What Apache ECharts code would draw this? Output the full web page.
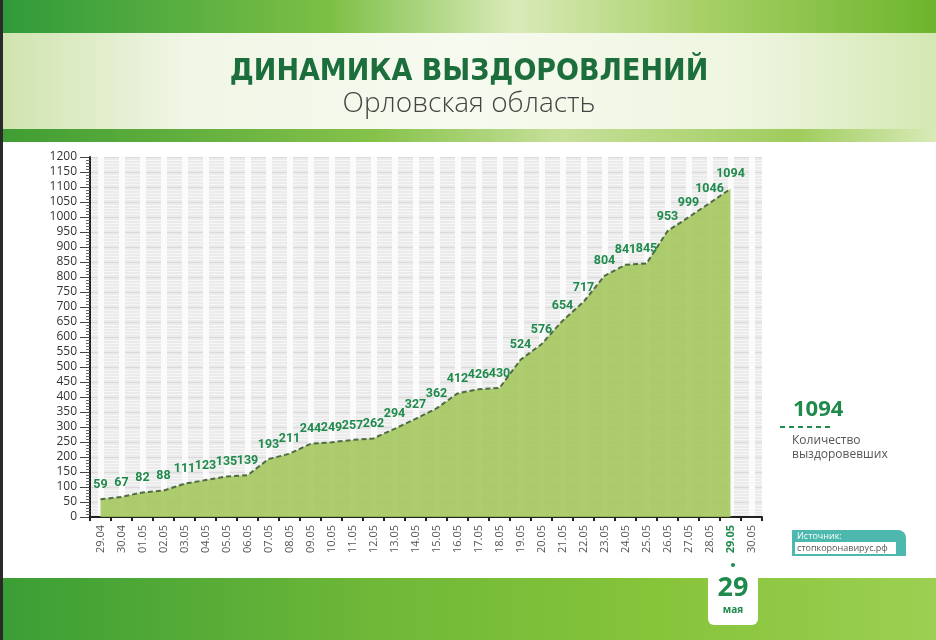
<!DOCTYPE html>
<html>
<head>
<meta charset="utf-8">
<script src="https://cdn.jsdelivr.net/npm/echarts@6/dist/echarts.min.js"></script>
<style>
html,body{margin:0;padding:0;background:#fff;}
#chart{width:936px;height:640px;}
</style>
</head>
<body>
<div id="chart"></div>
<script>
const titleText = 'ДИНАМИКА ВЫЗДОРОВЛЕНИЙ';
const subtitleText = 'Орловская область';
const categories = ['29.04','30.04','01.05','02.05','03.05','04.05','05.05','06.05','07.05','08.05','09.05','10.05','11.05','12.05','13.05','14.05','15.05','16.05','17.05','18.05','19.05','20.05','21.05','22.05','23.05','24.05','25.05','26.05','27.05','28.05','29.05','30.05'];
const recovered = [59,67,82,88,111,123,135,139,193,211,244,249,257,262,294,327,362,412,426,430,524,576,654,717,804,841,845,953,999,1046,1094];
const highlightCategory = '29.05';
const totalValue = '1094';
const legendLines = ['Количество', 'выздоровевших'];
const sourceTitle = 'Источник:';
const sourceText = 'стопкоронавирус.рф';
const dateDay = '29';
const dateMonth = 'мая';

const chart = echarts.init(document.getElementById('chart'), null, {renderer: 'canvas'});
const G = echarts.graphic;
const greenBand = new G.LinearGradient(0, 0, 1, 0, [
  {offset: 0, color: '#2f9a3a'},
  {offset: 0.35, color: '#7cbf45'},
  {offset: 0.55, color: '#d9eab8'},
  {offset: 0.75, color: '#a7d067'},
  {offset: 1, color: '#6db52c'}
]);
const lightBand = new G.LinearGradient(0, 0, 1, 0, [
  {offset: 0, color: '#cfe3ad'},
  {offset: 0.2, color: '#f1f6e6'},
  {offset: 0.5, color: '#f7faef'},
  {offset: 0.8, color: '#eef5df'},
  {offset: 1, color: '#d4e8b2'}
]);
const stripBand = new G.LinearGradient(0, 0, 1, 0, [
  {offset: 0, color: '#3f9d33'},
  {offset: 0.4, color: '#86c24a'},
  {offset: 0.6, color: '#c7e09a'},
  {offset: 0.85, color: '#9fcc5c'},
  {offset: 1, color: '#d8eab8'}
]);
const bottomBand = new G.LinearGradient(0, 0, 1, 0, [
  {offset: 0, color: '#3a9e35'},
  {offset: 0.4, color: '#6fb838'},
  {offset: 0.7, color: '#86c43a'},
  {offset: 1, color: '#9ccf52'}
]);

const option = {
  backgroundColor: '#ffffff',
  animation: false,
  grid: {left: 90, right: 174, top: 157, bottom: 123, show: true, backgroundColor: '#ebebeb', borderWidth: 0},
  xAxis: {
    type: 'category',
    data: categories,
    boundaryGap: true,
    axisLine: {show: true, lineStyle: {color: '#222', width: 2}},
    axisTick: {show: true, length: 4, lineStyle: {color: '#222', width: 2}},
    axisLabel: {
      rotate: 90, fontSize: 11, color: '#555', fontFamily: 'Open Sans', margin: 8,
      formatter: function (v) { return v === highlightCategory ? '{hl|' + v + '}' : v; },
      rich: {hl: {color: '#1f8a4c', fontWeight: 'bold', fontSize: 11, fontFamily: 'Open Sans'}}
    },
    splitLine: {show: true, alignWithLabel: true, lineStyle: {color: '#fbfbfb', width: 6}}
  },
  yAxis: {
    type: 'value',
    min: 0, max: 1200, interval: 50,
    axisLine: {show: true, lineStyle: {color: '#222', width: 2}},
    axisTick: {show: true, length: 10, lineStyle: {color: '#444', width: 1}},
    minorTick: {show: true, splitNumber: 5, length: 4, lineStyle: {color: '#666', width: 1}},
    axisLabel: {fontSize: 12, color: '#333', fontFamily: 'Open Sans', margin: 13,
      formatter: function (v) { return String(v); }},
    splitLine: {show: true, lineStyle: {color: '#dadada', width: 1}},
    minorSplitLine: {show: true, lineStyle: {color: '#f6f6f6', width: 1}}
  },
  series: [{
    type: 'line',
    data: recovered,
    symbol: 'circle',
    symbolSize: 2,
    showSymbol: true,
    showAllSymbol: true,
    itemStyle: {color: 'rgba(0,0,0,0)', borderWidth: 0},
    lineStyle: {color: '#4e6b45', width: 2, type: [5, 3]},
    areaStyle: {color: '#a3c65a', opacity: 0.88},
    label: {
      show: true, position: 'top', distance: 7,
      color: '#1f8a4c', fontWeight: 'bold', fontSize: 12.5,
      fontFamily: 'Roboto, "Open Sans", sans-serif'
    },
    labelLayout: {hideOverlap: false},
    z: 3
  }],
  graphic: [
    {type: 'rect', shape: {x: 0, y: 0, width: 936, height: 33}, style: {fill: greenBand}, silent: true},
    {type: 'rect', shape: {x: 0, y: 33, width: 936, height: 96}, style: {fill: lightBand}, silent: true},
    {type: 'rect', shape: {x: 0, y: 129, width: 936, height: 13}, style: {fill: stripBand}, silent: true},
    {type: 'rect', shape: {x: 0, y: 578, width: 936, height: 62}, style: {fill: bottomBand}, silent: true},
    {type: 'rect', shape: {x: 0, y: 0, width: 3, height: 640}, style: {fill: '#2a2a2a'}, silent: true},
    {type: 'text', x: 469, y: 72, style: {text: titleText, fill: '#1c6e3c', font: 'bold 30px "DejaVu Sans Condensed", "DejaVu Sans"', textAlign: 'center', textVerticalAlign: 'middle'}},
    {type: 'text', x: 469, y: 104, style: {text: subtitleText, fill: '#444', font: '300 28px "Open Sans"', textAlign: 'center', textVerticalAlign: 'middle'}},
    {type: 'text', x: 793, y: 410, style: {text: totalValue, fill: '#1f8a4c', font: 'bold 22px "Open Sans"', textAlign: 'left', textVerticalAlign: 'middle'}},
    {type: 'line', shape: {x1: 780, y1: 427, x2: 830, y2: 427}, style: {stroke: '#1f8a4c', lineWidth: 2, lineDash: [5, 4]}},
    {type: 'text', x: 792, y: 441, style: {text: legendLines[0], fill: '#555', font: '12px "Open Sans"', textAlign: 'left', textVerticalAlign: 'middle'}},
    {type: 'text', x: 792, y: 455, style: {text: legendLines[1], fill: '#555', font: '12px "Open Sans"', textAlign: 'left', textVerticalAlign: 'middle'}},
    {type: 'rect', shape: {x: 792, y: 530, width: 114, height: 26, r: [0, 8, 0, 0]}, style: {fill: '#4cb8ae'}},
    {type: 'rect', shape: {x: 795, y: 542, width: 101, height: 12}, style: {fill: '#ffffff'}},
    {type: 'text', x: 797, y: 536, style: {text: sourceTitle, fill: '#fff', font: '9px "Open Sans"', textAlign: 'left', textVerticalAlign: 'middle'}},
    {type: 'text', x: 797, y: 548, style: {text: sourceText, fill: '#555', font: '9px "Open Sans"', textAlign: 'left', textVerticalAlign: 'middle'}},
    {type: 'rect', shape: {x: 708, y: 569, width: 50, height: 56, r: [0, 0, 6, 6]}, style: {fill: '#ffffff'}},
    {type: 'circle', shape: {cx: 733, cy: 565, r: 2}, style: {fill: '#1f8a4c'}},
    {type: 'text', x: 733, y: 588, style: {text: dateDay, fill: '#1f8a4c', font: 'bold 27px "Open Sans"', textAlign: 'center', textVerticalAlign: 'middle'}},
    {type: 'text', x: 733, y: 610, style: {text: dateMonth, fill: '#1f8a4c', font: 'bold 10px "Open Sans"', textAlign: 'center', textVerticalAlign: 'middle'}}
  ]
};
chart.setOption(option);
</script>
</body>
</html>
